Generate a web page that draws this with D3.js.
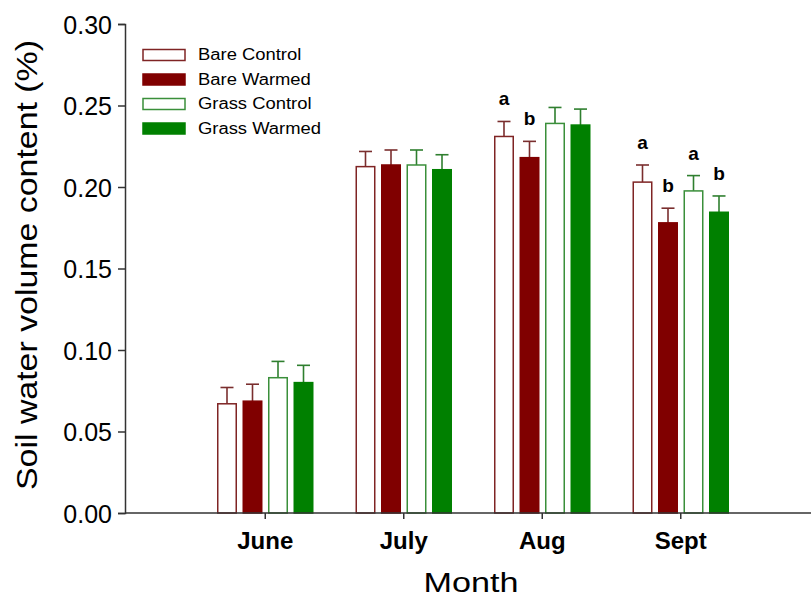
<!DOCTYPE html>
<html><head><meta charset="utf-8">
<script src="https://cdn.jsdelivr.net/npm/d3@7"></script>
<style>body{margin:0;background:#fff}svg{display:block}text{font-family:Arial,"Liberation Sans",sans-serif;fill:#000}</style>
</head><body>
<svg id="c" width="811" height="597"></svg>
<script>
const months = ["June", "July", "Aug", "Sept"];
const seriesNames = ["Bare Control", "Bare Warmed", "Grass Control", "Grass Warmed"];
const bareControl = [0.067, 0.2125, 0.231, 0.203];
const bareControlErr = [0.0100, 0.0093, 0.0092, 0.0105];
const bareWarmed = [0.0686, 0.2135, 0.218, 0.178];
const bareWarmedErr = [0.0104, 0.0092, 0.0100, 0.0090];
const grassControl = [0.083, 0.2135, 0.239, 0.1976];
const grassControlErr = [0.0100, 0.0092, 0.0098, 0.0094];
const grassWarmed = [0.080, 0.2106, 0.238, 0.1845];
const grassWarmedErr = [0.0106, 0.0092, 0.0098, 0.0100];
const bareControlLetters = ["", "", "a", "a"];
const bareWarmedLetters = ["", "", "b", "b"];
const grassControlLetters = ["", "", "", "a"];
const grassWarmedLetters = ["", "", "", "b"];
const yTicks = [0, 0.05, 0.10, 0.15, 0.20, 0.25, 0.30];

const series = [
  {name: seriesNames[0], values: bareControl, err: bareControlErr, letters: bareControlLetters, fill: "#ffffff", stroke: "#7f2424", ebar: "#7a2e2e"},
  {name: seriesNames[1], values: bareWarmed, err: bareWarmedErr, letters: bareWarmedLetters, fill: "#800000", stroke: "#800000", ebar: "#7a2e2e"},
  {name: seriesNames[2], values: grassControl, err: grassControlErr, letters: grassControlLetters, fill: "#ffffff", stroke: "#3a8f3a", ebar: "#2f7f2f"},
  {name: seriesNames[3], values: grassWarmed, err: grassWarmedErr, letters: grassWarmedLetters, fill: "#008000", stroke: "#008000", ebar: "#2f7f2f"}
];

const svg = d3.select("#c");
const axisX0 = 125, axisY0 = 513;
const y = d3.scaleLinear().domain([0, 0.30]).range([axisY0, 24]);
const x = d3.scaleBand().domain(months).range([196, 750]).padding(0);
const xs = d3.scaleBand().domain(seriesNames).range([0, 96.5]).paddingInner(0.216).paddingOuter(0);
const groupOff = (x.bandwidth() - 96.5) / 2;

// bars
const g = svg.append("g");
series.forEach(s => {
  const bx = i => x(months[i]) + groupOff + xs(s.name);
  const bw = xs.bandwidth();
  s.values.forEach((v, i) => {
    const cx = bx(i) + bw / 2;
    g.append("line").attr("x1", cx).attr("x2", cx).attr("y1", y(v)).attr("y2", y(v + s.err[i]))
      .attr("stroke", s.ebar).attr("stroke-width", 1.6);
    g.append("line").attr("x1", cx - 6.5).attr("x2", cx + 6.5).attr("y1", y(v + s.err[i])).attr("y2", y(v + s.err[i]))
      .attr("stroke", s.ebar).attr("stroke-width", 1.6);
    g.append("rect").attr("x", bx(i) + 0.75).attr("y", y(v)).attr("width", bw - 1.5).attr("height", axisY0 - y(v))
      .attr("fill", s.fill).attr("stroke", s.stroke).attr("stroke-width", 1.5);
    if (s.letters[i]) {
      g.append("text").attr("x", cx).attr("y", y(v + s.err[i]) - 16).attr("text-anchor", "middle")
        .style("font-size", "19px").style("font-weight", "bold").text(s.letters[i]);
    }
  });
});

// axes
const yAxis = d3.axisLeft(y).tickValues(yTicks).tickFormat(d3.format(".2f")).tickSizeOuter(0).tickSize(7).tickPadding(6);
const ya = svg.append("g").attr("transform", `translate(${axisX0},0)`).call(yAxis);
ya.select(".domain").attr("stroke", "#333").attr("stroke-width", 1.5);
ya.selectAll(".tick line").attr("stroke", "#333").attr("stroke-width", 1.5);
ya.selectAll(".tick text").style("font-size", "25px").attr("dy", "0.36em");

svg.append("line").attr("x1", axisX0).attr("x2", 811).attr("y1", axisY0).attr("y2", axisY0)
  .attr("stroke", "#333").attr("stroke-width", 1.5);
const xAxis = d3.axisBottom(x).tickSize(6).tickPadding(10).tickSizeOuter(0);
const xa = svg.append("g").attr("transform", `translate(0,${axisY0})`).call(xAxis);
xa.select(".domain").remove();
xa.selectAll(".tick line").attr("stroke", "#333").attr("stroke-width", 1.5);
xa.selectAll(".tick text").style("font-size", "24px").style("font-weight", "bold").attr("dy", "0.85em");

// axis titles
function stretch(sel, len) {
  sel.attr("textLength", len).attr("lengthAdjust", "spacingAndGlyphs");
}
const xt = svg.append("text").attr("x", 471).attr("y", 592).attr("text-anchor", "middle")
  .style("font-size", "27px").text("Month");
stretch(xt, 95);
const yt = svg.append("text").attr("transform", "translate(37,265) rotate(-90)").attr("text-anchor", "middle")
  .style("font-size", "30px").text("Soil water volume content (%)");
stretch(yt, 450);

// legend
const lg = svg.append("g");
series.forEach((s, i) => {
  const ry = 49.5 + i * 24.5;
  lg.append("rect").attr("x", 143).attr("y", ry).attr("width", 42).attr("height", 11)
    .attr("fill", s.fill).attr("stroke", s.stroke).attr("stroke-width", 1.5);
  const t = lg.append("text").attr("x", 198).attr("y", ry + 10.5).style("font-size", "16px").text(s.name);
  const len = t.node().getComputedTextLength();
  stretch(t, len * 1.15);
});
</script>
</body></html>
